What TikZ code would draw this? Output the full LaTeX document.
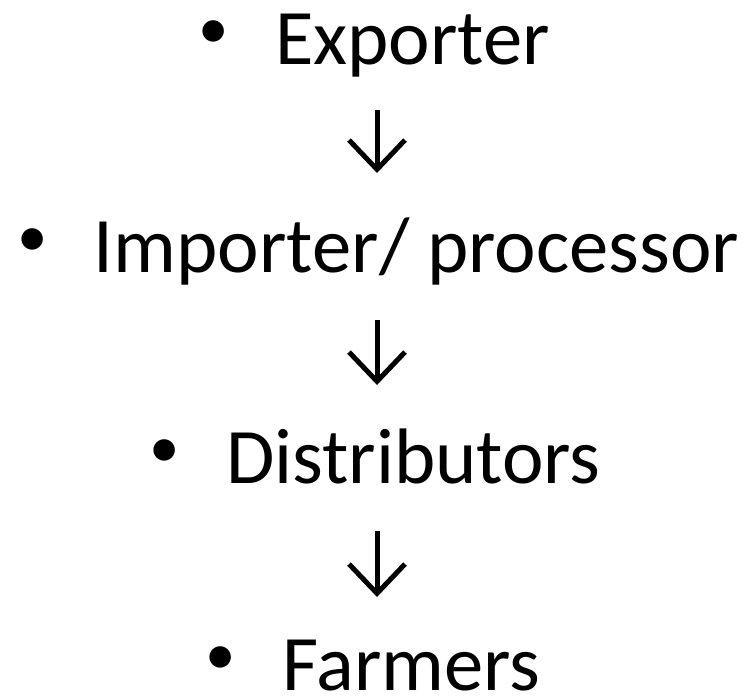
\documentclass[tikz,border=0pt]{standalone}
\usepackage{fontspec}
\setmainfont{Carlito}
\usetikzlibrary{arrows.meta}

\newcommand{\bul}{\raisebox{11.5pt}{\fontsize{45.6}{50}\selectfont •}\hspace{35pt}}

\tikzset{
  item/.style={anchor=base,inner sep=0pt,font=\fontsize{59}{70}\selectfont},
  flow/.style={line width=3.75pt,-{Straight Barb[length=22pt,width=42pt]}}
}

\begin{document}
\begin{tikzpicture}[x=0.75pt,y=-0.75pt]
\useasboundingbox (0,0) rectangle (745,696);
\node[item] (exp) at (374,64) {\bul Exporter};
\node[item] (imp) at (378,272) {\bul Importer/ processor};
\node[item] (dis) at (375,483) {\bul Distributors};
\node[item] (far) at (373,690) {\bul Farmers};
\draw[flow] ([shift={(3,46)}]exp.base) -- ([shift={(-1,-99)}]imp.base);
\draw[flow] ([shift={(-1,48)}]imp.base) -- ([shift={(2,-98)}]dis.base);
\draw[flow] ([shift={(2,48)}]dis.base) -- ([shift={(4,-93)}]far.base);
\end{tikzpicture}
\end{document}
